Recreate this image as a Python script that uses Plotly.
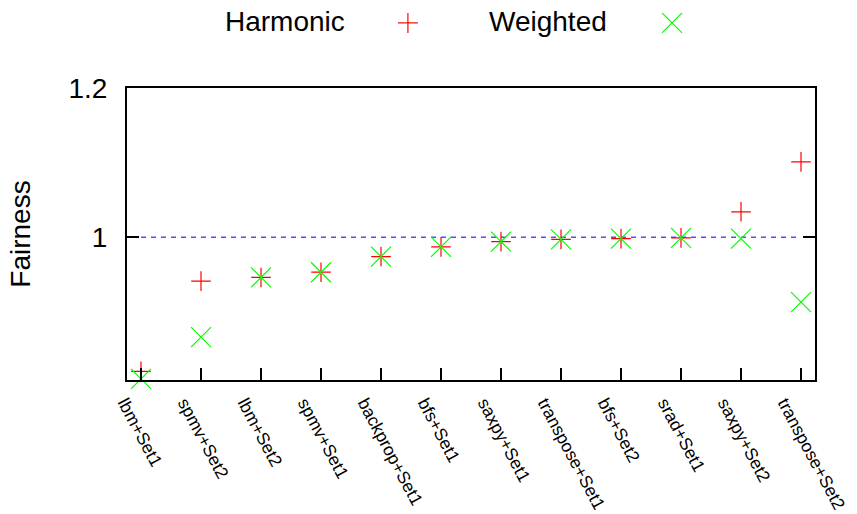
import plotly.graph_objects as go

# Workload pairs on the x axis
benchmarks = [
    "lbm+Set1", "spmv+Set2", "lbm+Set2", "spmv+Set1", "backprop+Set1",
    "bfs+Set1", "saxpy+Set1", "transpose+Set1", "bfs+Set2", "srad+Set1",
    "saxpy+Set2", "transpose+Set2",
]

# Fairness metrics per workload pair
harmonic = [0.820, 0.941, 0.946, 0.953, 0.974, 0.987, 0.994, 0.997, 0.998, 0.999, 1.034, 1.101]
weighted = [0.810, 0.866, 0.946, 0.953, 0.974, 0.987, 0.994, 0.997, 0.998, 0.999, 0.998, 0.913]

# Reference level (perfect fairness)
ideal = [1.0, 1.0]
ideal_x = [benchmarks[0], benchmarks[-1]]

y_tickvals = [1.0, 1.2]
y_ticktext = ["1", "1.2"]

FONT = "Liberation Sans, Arial, Helvetica, sans-serif"
RED = "#ff0000"
GREEN = "#00ff00"

fig = go.Figure()

fig.add_trace(go.Scatter(
    x=ideal_x, y=ideal, mode="lines",
    line=dict(color="#5050ff", width=1.5, dash="5px,5px"),
    showlegend=False, hoverinfo="skip",
))

fig.add_trace(go.Scatter(
    x=benchmarks, y=harmonic, mode="markers", name="Harmonic",
    marker=dict(symbol="cross-thin", size=14, line=dict(color=RED, width=1.2)),
    cliponaxis=False, showlegend=False,
))

fig.add_trace(go.Scatter(
    x=benchmarks, y=weighted, mode="markers", name="Weighted",
    marker=dict(symbol="x-thin", size=20, line=dict(color=GREEN, width=1.2)),
    cliponaxis=False, showlegend=False,
))

# Legend drawn above the plot: label followed by its marker sample
legend_items = [("Harmonic", RED, "plus", 0.3198, 0.4083),
                ("Weighted", GREEN, "x", 0.7006, 0.7922)]
annotations = []
shapes = []
for label, color, kind, text_right, sym_x in legend_items:
    annotations.append(dict(
        text=label, xref="paper", yref="paper", x=text_right, y=1.228,
        xanchor="right", yanchor="middle", showarrow=False,
        font=dict(family=FONT, size=28, color="black"),
    ))
    if kind == "plus":
        segs = [(-10, 0, 10, 0), (0, -10, 0, 10)]
    else:
        segs = [(-10, -10, 10, 10), (-10, 10, 10, -10)]
    for x0, y0, x1, y1 in segs:
        shapes.append(dict(
            type="line", xref="paper", yref="paper",
            xsizemode="pixel", ysizemode="pixel",
            xanchor=sym_x, yanchor=1.223,
            x0=x0, x1=x1, y0=y0, y1=y1,
            line=dict(color=color, width=1.2),
        ))

fig.update_layout(
    width=857, height=514,
    margin=dict(l=127, r=42, t=88, b=134, autoexpand=False),
    paper_bgcolor="white", plot_bgcolor="white",
    font=dict(family=FONT, color="black"),
    annotations=annotations, shapes=shapes,
    showlegend=False,
)

fig.update_xaxes(
    type="category", categoryorder="array", categoryarray=benchmarks,
    range=[-0.2333, 11.2333], automargin=False,
    showline=True, linecolor="black", linewidth=2, mirror=True,
    showgrid=False, zeroline=False,
    ticks="inside", ticklen=12, tickwidth=2, tickcolor="black",
    tickangle=62, tickfont=dict(family=FONT, size=17.5, color="black"),
    ticklabelshift=-16, ticklabelstandoff=4,
)

fig.update_yaxes(
    range=[0.8085, 1.2], automargin=False,
    tickvals=y_tickvals, ticktext=y_ticktext,
    showline=True, linecolor="black", linewidth=2, mirror="ticks",
    showgrid=False, zeroline=False,
    ticks="inside", ticklen=12, tickwidth=2, tickcolor="black",
    tickfont=dict(family=FONT, size=28, color="black"),
    ticklabelstandoff=12,
    title=dict(text="Fairness", font=dict(family=FONT, size=28, color="black"), standoff=30),
)

fig.write_html("out.html")
